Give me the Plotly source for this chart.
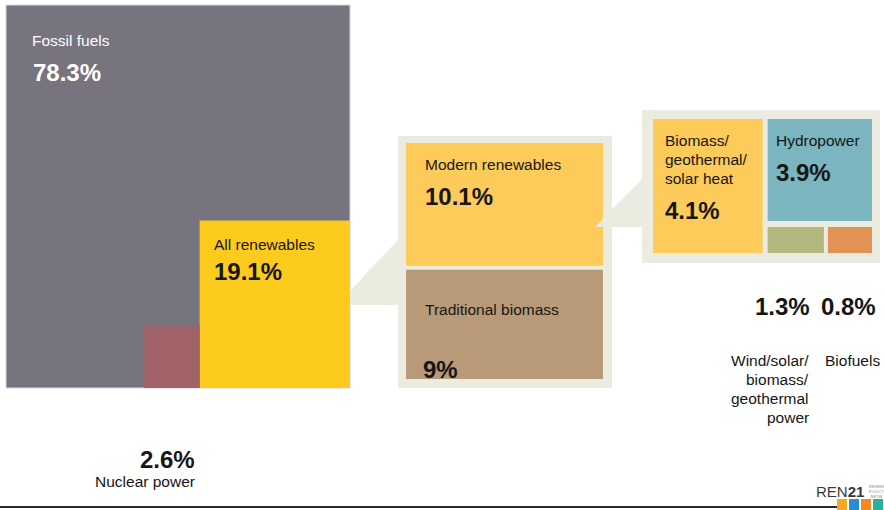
import math
import plotly.graph_objects as go

# Shares of global total final energy consumption (%)
share_labels = ["Fossil fuels", "All renewables", "Nuclear power"]
share_values = [78.3, 19.1, 2.6]

# Breakdown of all renewables (%)
renew_labels = ["Modern renewables", "Traditional biomass"]
renew_values = [10.1, 9.0]

# Breakdown of modern renewables (%)
modern_labels = [
    ["Biomass/", "geothermal/", "solar heat"],
    ["Hydropower"],
    ["Wind/solar/", "biomass/", "geothermal", "power"],
    ["Biofuels"],
]
modern_values = [4.1, 3.9, 1.3, 0.8]

# ---- styling -------------------------------------------------------------
FONT = "Liberation Sans, Arial, sans-serif"
LBL = 15.5
PCT = 24
INK = "#161616"
FRAME = "#ecebdf"
C_FOSSIL, C_RENEW, C_NUCLEAR = "#77747f", "#fdcb1e", "#a16268"
C_MODERN, C_TRAD = "#fccb5a", "#b89a78"
C_HEAT, C_HYDRO, C_WIND, C_BIO = "#fccb5a", "#7ab5c0", "#b5b87e", "#e09355"

W, H = 884, 510
shapes, notes = [], []


def pct(v):
    return f"{v:g}%"


def rect(x0, y0, x1, y1, color, line=None):
    shapes.append(dict(type="rect", x0=x0, y0=y0, x1=x1, y1=y1, xref="x", yref="y",
                       fillcolor=color, layer="above",
                       line=dict(width=1 if line else 0, color=line or color)))


def poly(pts, color):
    path = "M " + " L ".join(f"{x},{y}" for x, y in pts) + " Z"
    shapes.append(dict(type="path", path=path, xref="x", yref="y",
                       fillcolor=color, line=dict(width=0), layer="above"))


def text(x, y, s, size=LBL, bold=False, color=INK, anchor="left"):
    notes.append(dict(x=x, y=y, xref="x", yref="y", text=f"<b>{s}</b>" if bold else s,
                      showarrow=False, xanchor=anchor, yanchor="middle",
                      font=dict(family=FONT, size=size, color=color)))


# ---- main square: area proportional to share of the total -----------------
ox, oy = 6, 5            # top-left of the big square
kx, ky = 34.4, 38.3      # pixels per unit of side length (sqrt of %)
total = sum(share_values)
side = math.sqrt(total)
gx1, gy1 = ox + side * kx, oy + side * ky
rect(ox, oy, gx1, gy1, C_FOSSIL, line="#d8d8dc")

rs = math.sqrt(share_values[1])
rx0, ry0 = gx1 - rs * kx, gy1 - rs * ky
rect(rx0, ry0, gx1, gy1, C_RENEW)

ns = math.sqrt(share_values[2])
nx0, ny0 = rx0 - ns * kx, gy1 - ns * ky
rect(nx0, ny0, rx0, gy1, C_NUCLEAR)

text(ox + 24, oy + 35, share_labels[0], color="white")
text(ox + 25, oy + 67, pct(share_values[0]), size=PCT, bold=True, color="white")
text(rx0 + 12, ry0 + 24, share_labels[1])
text(rx0 + 12, ry0 + 51, pct(share_values[1]), size=PCT, bold=True)
text(rx0 - 3, gy1 + 71, pct(share_values[2]), size=PCT, bold=True, anchor="right")
text(rx0 - 3, gy1 + 93, share_labels[2], anchor="right")

# ---- renewables panel: stacked, heights proportional to value -------------
fx0, fy0, fx1, fy1 = 398, 136, 612, gy1
poly([(gx1, 291), (fx0, 240), (fx0, 305), (gx1, 305)], FRAME)
rect(fx0, fy0, fx1, fy1, FRAME)
ix0, ix1, iy0, iy1, gap = fx0 + 8, fx1 - 9, fy0 + 7, fy1 - 9, 4
k = (iy1 - iy0 - gap) / sum(renew_values)
my1 = iy0 + renew_values[0] * k
rect(ix0, iy0, ix1, my1, C_MODERN)
rect(ix0, my1 + gap, ix1, iy1, C_TRAD)
text(ix0 + 17, iy0 + 21, renew_labels[0])
text(ix0 + 17, iy0 + 53, pct(renew_values[0]), size=PCT, bold=True)
text(ix0 + 17, my1 + gap + 40, renew_labels[1])
text(ix0 + 15, iy1 - 10, pct(renew_values[1]), size=PCT, bold=True)

# ---- modern renewables panel ----------------------------------------------
px0, py0, px1, py1 = 642, 110, 880, 263
poly([(ix1 - 8, 227), (px0 + 1, 178), (px0 + 1, 227)], FRAME)
rect(px0, py0, px1, py1, FRAME)
qx0, qx1, qy0, qy1, g = px0 + 11, px1 - 8, py0 + 9, py1 - 10, 5
heat, hydro, wind, bio = modern_values
hw = (qx1 - qx0 - g) * heat / (heat + hydro)
hx1 = qx0 + hw
rect(qx0, qy0, hx1, qy1, C_HEAT)
strip = 26
rect(hx1 + g, qy0, qx1, qy1 - strip - 6, C_HYDRO)
# small boxes: widths follow the side of a square of equal area
sw = qx1 - (hx1 + g) - 4
ww = sw * math.sqrt(wind) / (math.sqrt(wind) + math.sqrt(bio))
wx1 = hx1 + g + ww
rect(hx1 + g, qy1 - strip, wx1, qy1, C_WIND)
rect(wx1 + 4, qy1 - strip, qx1, qy1, C_BIO)

for i, line in enumerate(modern_labels[0]):
    text(qx0 + 10, qy0 + 21 + i * 19, line)
text(qx0 + 10, qy0 + 91, pct(heat), size=PCT, bold=True)
text(hx1 + g + 6, qy0 + 21, modern_labels[1][0])
text(hx1 + g + 6, qy0 + 53, pct(hydro), size=PCT, bold=True)

text(wx1 - 12, qy1 + 53, pct(wind), size=PCT, bold=True, anchor="right")
text(qx1 + 6, qy1 + 53, pct(bio), size=PCT, bold=True, anchor="right")
for i, line in enumerate(modern_labels[2]):
    text(wx1 - 13, qy1 + 107 + i * 19, line, anchor="right")
text(qx1 + 10, qy1 + 107, modern_labels[3][0], anchor="right")

# ---- footer rule and logo ---------------------------------------------------
shapes.append(dict(type="line", x0=0, x1=837, y0=507, y1=507, xref="x", yref="y",
                   line=dict(color="#2a2a2a", width=2)))
notes.append(dict(x=866, y=491, xref="x", yref="y", showarrow=False, xanchor="right",
                  yanchor="middle", text="REN<b>21</b>",
                  font=dict(family="Liberation Sans, Arial, sans-serif", size=15, color="#3a3a3a")))
notes.append(dict(x=867, y=491, xref="x", yref="y", showarrow=False, xanchor="left",
                  yanchor="middle", text="RENEW<br>POLICY<br>NETW",
                  font=dict(family="Liberation Sans, Arial, sans-serif", size=4, color="#888888")))
for i, c in enumerate(["#f6a823", "#2d8ccf", "#f08a24", "#2ab09f"]):
    rect(837 + i * 12, 499, 847 + i * 12, 510, c)

fig = go.Figure()
fig.update_layout(
    width=W, height=H, margin=dict(l=0, r=0, t=0, b=0),
    paper_bgcolor="white", plot_bgcolor="white", showlegend=False,
    xaxis=dict(range=[0, W], visible=False, fixedrange=True),
    yaxis=dict(range=[H, 0], visible=False, fixedrange=True),
    shapes=shapes, annotations=notes,
)
fig.write_html("out.html")
